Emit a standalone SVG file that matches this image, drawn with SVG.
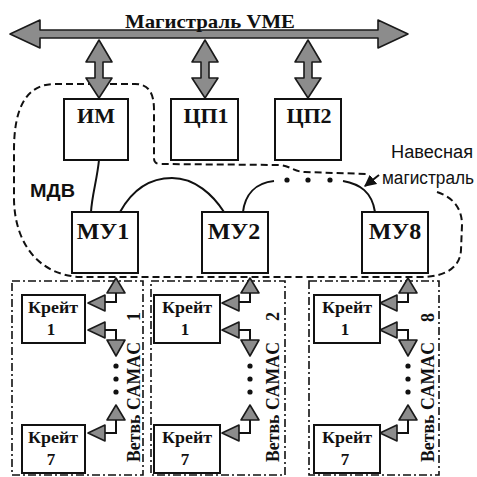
<svg xmlns="http://www.w3.org/2000/svg" width="477" height="477" viewBox="0 0 477 477">
<style>
.box{fill:#fff;stroke:#111;stroke-width:2}
.big{font-family:"Liberation Serif",serif;font-weight:bold;fill:#111}
.sans{font-family:"Liberation Sans",Arial,sans-serif;fill:#111}
.tri{fill:#8c8c8c;stroke:#1a1a1a;stroke-width:1.6;stroke-linejoin:round}
.ln{fill:none;stroke:#111;stroke-width:2}
.dash{fill:none;stroke:#111;stroke-width:2;stroke-dasharray:7 4}
.dd{fill:none;stroke:#111;stroke-width:1.6;stroke-dasharray:8 3 2 3}
</style>
<defs>
<marker id="ah" viewBox="0 0 10 10" refX="9" refY="5" markerWidth="6" markerHeight="6" orient="auto-start-reverse">
<path d="M0 0 L10 5 L0 10 Z" fill="#111"/>
</marker>
<g id="camac">
<polygon class="tri" points="0,278 -9,293 9,293"/>
<path class="ln" d="M0 293 V302 H-11"/>
<polygon class="tri" points="-28,303 -11,295 -11,311"/>
<polygon class="tri" points="-28,330 -11,322 -11,338"/>
<path class="ln" d="M-11 330 H0 V340"/>
<polygon class="tri" points="-9,340 9,340 0,356"/>
<circle cx="0" cy="366" r="2.6" fill="#111"/>
<circle cx="0" cy="379" r="2.6" fill="#111"/>
<circle cx="0" cy="392" r="2.6" fill="#111"/>
<polygon class="tri" points="0,405 -9,420 9,420"/>
<path class="ln" d="M0 420 V433 H-11"/>
<polygon class="tri" points="-28,433 -11,425 -11,441"/>
</g>
</defs>
<rect width="477" height="477" fill="#fff"/>

<!-- VME bus -->
<g id="vme">
<polygon class="tri" points="10,34 40,20 40,30 378,30 378,20 408,34 378,48 378,38 40,38 40,48"/>
<text class="big" x="125" y="28" font-size="19" textLength="170" lengthAdjust="spacingAndGlyphs">Магистраль VME</text>
</g>

<!-- MDV region -->
<g id="mdv">
<path class="dash" d="M437 192 C455 198 462 210 462 225 L461 250 C460 268 445 277 420 277 L80 277 C40 275 15 245 14 200 L14 150 C14 110 25 84 55 84 L135 84 C150 84 154 95 154 110 L154 158 Q154 164 160 164 L280 165 C290 166 295 172 305 172 L367 174"/>
<text class="sans" x="30" y="197" font-size="19" font-weight="bold" textLength="45" lengthAdjust="spacingAndGlyphs">МДВ</text>
</g>

<!-- CAMAC branch columns -->
<g id="branches">
<rect class="dd" x="12" y="281" width="131" height="194"/>
<rect class="dd" x="151" y="281" width="134" height="194"/>
<rect class="dd" x="309" y="281" width="130" height="194"/>
<text class="big" font-size="18" transform="translate(140,462) rotate(-90)" textLength="120" lengthAdjust="spacingAndGlyphs">Ветвь CAMAC</text>
<text class="big" font-size="18" transform="translate(140,321) rotate(-90)">1</text>
<text class="big" font-size="18" transform="translate(279,462) rotate(-90)" textLength="120" lengthAdjust="spacingAndGlyphs">Ветвь CAMAC</text>
<text class="big" font-size="18" transform="translate(279,321) rotate(-90)">2</text>
<text class="big" font-size="18" transform="translate(434,462) rotate(-90)" textLength="120" lengthAdjust="spacingAndGlyphs">Ветвь CAMAC</text>
<text class="big" font-size="18" transform="translate(434,322) rotate(-90)">8</text>
</g>

<!-- connectors -->
<g id="connectors">
<polygon class="tri" points="99,40 112,62 103,62 103,78 112,78 99,98 86,78 95,78 95,62 86,62"/>
<polygon class="tri" points="205,40 218,62 209,62 209,78 218,78 205,98 192,78 201,78 201,62 192,62"/>
<polygon class="tri" points="308,40 321,62 312,62 312,78 321,78 308,98 295,78 304,78 304,62 295,62"/>
<path class="ln" d="M99 160 C97 180 92 195 91 212"/>
<path class="ln" d="M120 212 C135 185 155 178 172 178 C195 178 213 195 224 212"/>
<path class="ln" d="M243 212 C245 195 255 183 274 181"/>
<circle cx="287" cy="180" r="2.6" fill="#111"/>
<circle cx="308" cy="180" r="2.6" fill="#111"/>
<circle cx="330" cy="180" r="2.6" fill="#111"/>
<path class="ln" d="M343 181 C360 184 372 192 375 212"/>
<path d="M379 175 L365 186" stroke="#111" stroke-width="2" fill="none" marker-end="url(#ah)"/>
<use href="#camac" x="116" y="0"/>
<use href="#camac" x="250" y="0"/>
<use href="#camac" x="408" y="0"/>
</g>

<text class="sans" x="391" y="158" font-size="18" textLength="82" lengthAdjust="spacingAndGlyphs">Навесная</text>
<text class="sans" x="382" y="184" font-size="18" textLength="92" lengthAdjust="spacingAndGlyphs">магистраль</text>

<!-- nodes -->
<g id="im"><rect class="box" x="64" y="99" width="64" height="61"/><text class="big" x="96" y="123" font-size="22" text-anchor="middle">ИМ</text></g>
<g id="cp1"><rect class="box" x="171" y="99" width="67" height="61"/><text class="big" x="206" y="123" font-size="22" text-anchor="middle">ЦП1</text></g>
<g id="cp2"><rect class="box" x="275" y="99" width="66" height="61"/><text class="big" x="309" y="123" font-size="22" text-anchor="middle">ЦП2</text></g>
<g id="mu1"><rect class="box" x="72" y="212" width="66" height="61"/><text class="big" x="103" y="239" font-size="24" text-anchor="middle">МУ1</text></g>
<g id="mu2"><rect class="box" x="202" y="212" width="66" height="61"/><text class="big" x="234" y="239" font-size="24" text-anchor="middle">МУ2</text></g>
<g id="mu8"><rect class="box" x="362" y="212" width="66" height="61"/><text class="big" x="395" y="239" font-size="24" text-anchor="middle">МУ8</text></g>

<g id="k1-1"><rect class="box" x="22" y="295" width="63" height="48"/><text class="big" x="53" y="313" font-size="17" text-anchor="middle" textLength="50" lengthAdjust="spacingAndGlyphs">Крейт</text><text class="big" x="51" y="335" font-size="17" text-anchor="middle">1</text></g>
<g id="k1-7"><rect class="box" x="22" y="425" width="63" height="48"/><text class="big" x="53" y="443" font-size="17" text-anchor="middle" textLength="50" lengthAdjust="spacingAndGlyphs">Крейт</text><text class="big" x="51" y="465" font-size="17" text-anchor="middle">7</text></g>
<g id="k2-1"><rect class="box" x="154" y="295" width="66" height="48"/><text class="big" x="187" y="313" font-size="17" text-anchor="middle" textLength="50" lengthAdjust="spacingAndGlyphs">Крейт</text><text class="big" x="185" y="335" font-size="17" text-anchor="middle">1</text></g>
<g id="k2-7"><rect class="box" x="154" y="425" width="66" height="48"/><text class="big" x="187" y="443" font-size="17" text-anchor="middle" textLength="50" lengthAdjust="spacingAndGlyphs">Крейт</text><text class="big" x="185" y="465" font-size="17" text-anchor="middle">7</text></g>
<g id="k8-1"><rect class="box" x="314" y="295" width="66" height="48"/><text class="big" x="347" y="313" font-size="17" text-anchor="middle" textLength="50" lengthAdjust="spacingAndGlyphs">Крейт</text><text class="big" x="345" y="335" font-size="17" text-anchor="middle">1</text></g>
<g id="k8-7"><rect class="box" x="314" y="425" width="66" height="48"/><text class="big" x="347" y="443" font-size="17" text-anchor="middle" textLength="50" lengthAdjust="spacingAndGlyphs">Крейт</text><text class="big" x="345" y="465" font-size="17" text-anchor="middle">7</text></g>
</svg>
